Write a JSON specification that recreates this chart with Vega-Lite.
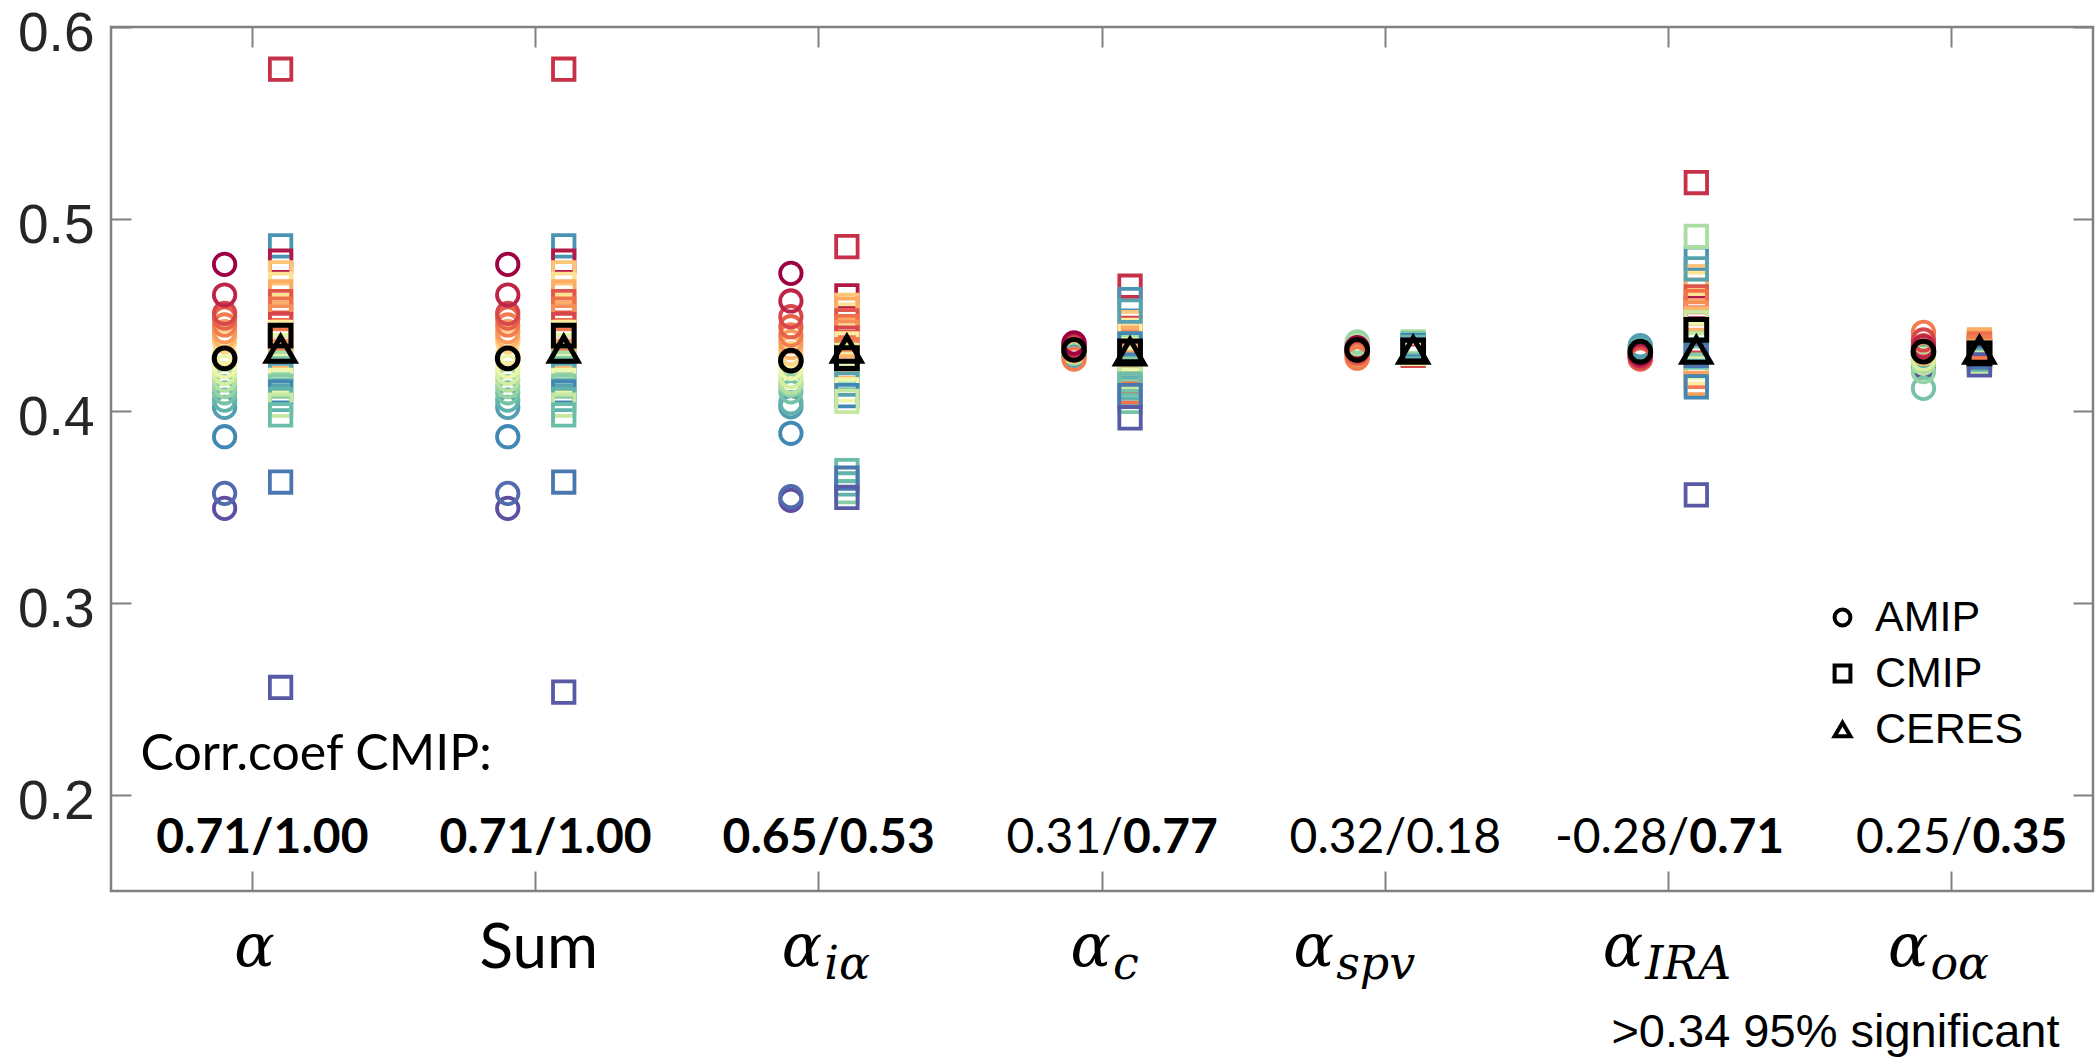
{
  "$schema": "https://vega.github.io/schema/vega-lite/v6.json",
  "width": 1982,
  "height": 864,
  "autosize": {"type": "none"},
  "padding": {"left": 111, "top": 27, "right": 3, "bottom": 168},
  "background": "white",
  "config": {
    "view": {"stroke": "#808080", "strokeWidth": 2.5},
    "style": {
      "lblbase": {"font": "DejaVu Serif", "fontStyle": "italic", "fontSize": 60, "fill": "black", "baseline": "alphabetic"},
      "lblsub": {"font": "DejaVu Serif", "fontStyle": "italic", "fontSize": 46, "fill": "black", "baseline": "alphabetic"},
      "corr": {"font": "Lato", "fontSize": 48, "fill": "black", "baseline": "alphabetic", "fontWeight": "normal"}
    }
  },
  "datasets": {
    "models": [
      {"set":"AMIP","tone":1.00,"a":0.3493,"sum":0.3493,"ia":0.3535,"c":0.4300,"spv":0.4310,"ira":0.4290,"oa":0.4230},
      {"set":"AMIP","tone":0.95,"a":0.3571,"sum":0.3571,"ia":0.3554,"c":0.4310,"spv":0.4325,"ira":0.4300,"oa":0.4260},
      {"set":"AMIP","tone":0.90,"a":0.3866,"sum":0.3866,"ia":0.3884,"c":0.4320,"spv":0.4330,"ira":0.4335,"oa":0.4290},
      {"set":"AMIP","tone":0.86,"a":0.4019,"sum":0.4019,"ia":0.4022,"c":0.4290,"spv":0.4340,"ira":0.4340,"oa":0.4300},
      {"set":"AMIP","tone":0.82,"a":0.4057,"sum":0.4057,"ia":0.4043,"c":0.4300,"spv":0.4320,"ira":0.4320,"oa":0.4280},
      {"set":"AMIP","tone":0.78,"a":0.4095,"sum":0.4095,"ia":0.4100,"c":0.4310,"spv":0.4350,"ira":0.4310,"oa":0.4118},
      {"set":"AMIP","tone":0.73,"a":0.4127,"sum":0.4127,"ia":0.4135,"c":0.4300,"spv":0.4360,"ira":0.4300,"oa":0.4205},
      {"set":"AMIP","tone":0.68,"a":0.4161,"sum":0.4161,"ia":0.4150,"c":0.4315,"spv":0.4340,"ira":0.4295,"oa":0.4250},
      {"set":"AMIP","tone":0.62,"a":0.4196,"sum":0.4196,"ia":0.4179,"c":0.4320,"spv":0.4330,"ira":0.4305,"oa":0.4270},
      {"set":"AMIP","tone":0.55,"a":0.4231,"sum":0.4231,"ia":0.4222,"c":0.4310,"spv":0.4320,"ira":0.4300,"oa":0.4300},
      {"set":"AMIP","tone":0.45,"a":0.4300,"sum":0.4300,"ia":0.4280,"c":0.4325,"spv":0.4310,"ira":0.4290,"oa":0.4310},
      {"set":"AMIP","tone":0.38,"a":0.4361,"sum":0.4361,"ia":0.4300,"c":0.4310,"spv":0.4300,"ira":0.4295,"oa":0.4320},
      {"set":"AMIP","tone":0.32,"a":0.4387,"sum":0.4387,"ia":0.4330,"c":0.4330,"spv":0.4290,"ira":0.4285,"oa":0.4300},
      {"set":"AMIP","tone":0.27,"a":0.4413,"sum":0.4413,"ia":0.4361,"c":0.4320,"spv":0.4280,"ira":0.4280,"oa":0.4330},
      {"set":"AMIP","tone":0.22,"a":0.4448,"sum":0.4448,"ia":0.4396,"c":0.4270,"spv":0.4275,"ira":0.4275,"oa":0.4410},
      {"set":"AMIP","tone":0.17,"a":0.4484,"sum":0.4484,"ia":0.4439,"c":0.4330,"spv":0.4300,"ira":0.4270,"oa":0.4340},
      {"set":"AMIP","tone":0.12,"a":0.4509,"sum":0.4509,"ia":0.4491,"c":0.4340,"spv":0.4310,"ira":0.4280,"oa":0.4370},
      {"set":"AMIP","tone":0.06,"a":0.4604,"sum":0.4604,"ia":0.4573,"c":0.4350,"spv":0.4320,"ira":0.4290,"oa":0.4335},
      {"set":"AMIP","tone":0.00,"a":0.4764,"sum":0.4764,"ia":0.4717,"c":0.4355,"spv":0.4330,"ira":0.4300,"oa":0.4310},
      {"set":"CMIP","tone":0.08,"a":0.578,"sum":0.578,"ia":0.4856,"c":0.4650,"spv":0.4330,"ira":0.5190,"oa":0.4330},
      {"set":"CMIP","tone":0.88,"a":0.486,"sum":0.486,"ia":0.4420,"c":0.4580,"spv":0.4340,"ira":0.4795,"oa":0.4300},
      {"set":"CMIP","tone":0.04,"a":0.478,"sum":0.478,"ia":0.4600,"c":0.4200,"spv":0.4320,"ira":0.4540,"oa":0.4310},
      {"set":"CMIP","tone":0.35,"a":0.472,"sum":0.472,"ia":0.4550,"c":0.4460,"spv":0.4350,"ira":0.4700,"oa":0.4360},
      {"set":"CMIP","tone":0.42,"a":0.466,"sum":0.466,"ia":0.4500,"c":0.4400,"spv":0.4340,"ira":0.4665,"oa":0.4280},
      {"set":"CMIP","tone":0.30,"a":0.462,"sum":0.462,"ia":0.4530,"c":0.4380,"spv":0.4330,"ira":0.4630,"oa":0.4370},
      {"set":"CMIP","tone":0.15,"a":0.457,"sum":0.457,"ia":0.4470,"c":0.4150,"spv":0.4300,"ira":0.4595,"oa":0.4340},
      {"set":"CMIP","tone":0.20,"a":0.453,"sum":0.453,"ia":0.4440,"c":0.4100,"spv":0.4320,"ira":0.4570,"oa":0.4350},
      {"set":"CMIP","tone":0.25,"a":0.449,"sum":0.449,"ia":0.4410,"c":0.4360,"spv":0.4310,"ira":0.4510,"oa":0.4320},
      {"set":"CMIP","tone":0.12,"a":0.445,"sum":0.445,"ia":0.4380,"c":0.4430,"spv":0.4290,"ira":0.4250,"oa":0.4290},
      {"set":"CMIP","tone":0.45,"a":0.441,"sum":0.441,"ia":0.4350,"c":0.4420,"spv":0.4300,"ira":0.4200,"oa":0.4270},
      {"set":"CMIP","tone":0.22,"a":0.437,"sum":0.437,"ia":0.4320,"c":0.4300,"spv":0.4330,"ira":0.4180,"oa":0.4330},
      {"set":"CMIP","tone":0.60,"a":0.434,"sum":0.434,"ia":0.4290,"c":0.4320,"spv":0.4320,"ira":0.4230,"oa":0.4260},
      {"set":"CMIP","tone":0.28,"a":0.431,"sum":0.431,"ia":0.4260,"c":0.4250,"spv":0.4310,"ira":0.4144,"oa":0.4310},
      {"set":"CMIP","tone":0.32,"a":0.428,"sum":0.428,"ia":0.4230,"c":0.4280,"spv":0.4300,"ira":0.4480,"oa":0.4300},
      {"set":"CMIP","tone":0.70,"a":0.425,"sum":0.425,"ia":0.4200,"c":0.4340,"spv":0.4360,"ira":0.4910,"oa":0.4250},
      {"set":"CMIP","tone":0.78,"a":0.422,"sum":0.422,"ia":0.4170,"c":0.4050,"spv":0.4350,"ira":0.4280,"oa":0.4280},
      {"set":"CMIP","tone":0.85,"a":0.419,"sum":0.419,"ia":0.4140,"c":0.4520,"spv":0.4330,"ira":0.4740,"oa":0.4290},
      {"set":"CMIP","tone":0.55,"a":0.416,"sum":0.416,"ia":0.4110,"c":0.4270,"spv":0.4300,"ira":0.4400,"oa":0.4270},
      {"set":"CMIP","tone":0.75,"a":0.413,"sum":0.413,"ia":0.3580,"c":0.4220,"spv":0.4330,"ira":0.4350,"oa":0.4280},
      {"set":"CMIP","tone":0.90,"a":0.410,"sum":0.410,"ia":0.4080,"c":0.4350,"spv":0.4340,"ira":0.4126,"oa":0.4300},
      {"set":"CMIP","tone":0.82,"a":0.406,"sum":0.406,"ia":0.3620,"c":0.4120,"spv":0.4320,"ira":0.4300,"oa":0.4260},
      {"set":"CMIP","tone":0.65,"a":0.403,"sum":0.403,"ia":0.4050,"c":0.4180,"spv":0.4310,"ira":0.4460,"oa":0.4250},
      {"set":"CMIP","tone":0.80,"a":0.398,"sum":0.398,"ia":0.3690,"c":0.4140,"spv":0.4330,"ira":0.4320,"oa":0.4300},
      {"set":"CMIP","tone":0.93,"a":0.363,"sum":0.363,"ia":0.3650,"c":0.4080,"spv":0.4310,"ira":0.4290,"oa":0.4280},
      {"set":"CMIP","tone":0.98,"a":0.256,"sum":0.2536,"ia":0.3550,"c":0.3964,"spv":0.4320,"ira":0.3563,"oa":0.4240}
    ],
    "means": [
      {"set":"AMIP","a":0.4274,"sum":0.4274,"ia":0.4262,"c":0.4318,"spv":0.4318,"ira":0.4309,"oa":0.4309},
      {"set":"CMIP","a":0.4392,"sum":0.4392,"ia":0.4275,"c":0.4310,"spv":0.4315,"ira":0.4422,"oa":0.4300}
    ],
    "ceres": [
      {"set":"CERES","a":0.4323,"sum":0.4323,"ia":0.4323,"c":0.4309,"spv":0.4318,"ira":0.4318,"oa":0.4318}
    ],
    "corr": [
      {"var":"a","l":"0.71/","r":"1.00"},
      {"var":"sum","l":"0.71/","r":"1.00"},
      {"var":"ia","l":"0.65/","r":"0.53"},
      {"var":"c","l":"0.31/","r":"0.77"},
      {"var":"spv","l":"0.32/","r":"0.18"},
      {"var":"ira","l":"-0.28/","r":"0.71"},
      {"var":"oa","l":"0.25/","r":"0.35"}
    ]
  },
  "layer": [
    {
      "data": {"name": "models"},
      "transform": [{"fold": ["a","sum","ia","c","spv","ira","oa"], "as": ["var","v"]}],
      "mark": {"type": "point", "filled": false, "strokeWidth": 3.8, "opacity": 1, "size": 460},
      "encoding": {
        "x": {"field": "var", "type": "nominal",
              "scale": {"domain": ["a","sum","ia","c","spv","ira","oa"], "paddingInner": 0, "paddingOuter": 0},
              "axis": {"orient": "bottom", "labels": false, "domain": false, "tickSize": -20, "tickColor": "#808080", "tickWidth": 2,
                       "title": ">0.34 95% significant", "titleFont": "Liberation Sans", "titleFontSize": 47, "titleFontWeight": "normal",
                       "titleColor": "black", "titleX": 1948, "titleY": 141, "titleAlign": "right", "titleBaseline": "middle"}},
        "xOffset": {"field": "set", "type": "nominal", "scale": {"domain": ["AMIP","CMIP"], "range": [113.6, 169.6], "paddingInner": 0, "paddingOuter": 0}},
        "y": {"field": "v", "type": "quantitative",
              "scale": {"domain": [0.15, 0.6], "nice": false, "zero": false},
              "axis": {"orient": "left", "values": [0.2,0.3,0.4,0.5,0.6], "format": ".1f", "title": null, "domain": false, "grid": false,
                       "tickSize": -20, "tickColor": "#808080", "tickWidth": 2, "labelFont": "Liberation Sans", "labelFontSize": 55,
                       "labelColor": "#262626", "labelPadding": 37, "labelBaseline": "alphabetic", "labelOffset": 23, "labelFlush": false}},
        "shape": {"field": "set", "type": "nominal",
                  "scale": {"domain": ["AMIP","CMIP","CERES"], "range": ["circle","square","triangle-up"]},
                  "legend": {"orient": "none", "legendX": 1710, "legendY": 569, "title": null, "padding": 0,
                             "symbolStrokeColor": "black", "symbolFillColor": "transparent", "symbolStrokeWidth": 4, "symbolSize": 250,
                             "labelFont": "Liberation Sans", "labelFontSize": 43, "labelColor": "black", "labelOffset": 11, "rowPadding": 12}},
        "color": {"field": "tone", "type": "quantitative", "scale": {"scheme": "spectral", "domain": [0, 1]}, "legend": null}
      }
    },
    {
      "data": {"name": "means"},
      "transform": [{"fold": ["a","sum","ia","c","spv","ira","oa"], "as": ["var","v"]}],
      "mark": {"type": "point", "filled": false, "strokeWidth": 5, "color": "black", "opacity": 1, "size": 430},
      "encoding": {
        "x": {"field": "var", "type": "nominal",
              "axis": {"orient": "top", "labels": false, "domain": false, "tickSize": -20, "tickColor": "#808080", "tickWidth": 2, "title": null}},
        "xOffset": {"field": "set", "type": "nominal"},
        "y": {"field": "v", "type": "quantitative",
              "axis": {"orient": "right", "labels": false, "values": [0.2,0.3,0.4,0.5,0.6], "domain": false, "grid": false,
                       "tickSize": -20, "tickColor": "#808080", "tickWidth": 2, "title": null}},
        "shape": {"field": "set", "type": "nominal"}
      }
    },
    {
      "data": {"name": "ceres"},
      "transform": [{"fold": ["a","sum","ia","c","spv","ira","oa"], "as": ["var","v"]}],
      "mark": {"type": "point", "filled": false, "strokeWidth": 5, "color": "black", "opacity": 1, "size": 800},
      "encoding": {
        "x": {"field": "var", "type": "nominal", "axis": null},
        "xOffset": {"datum": "CMIP"},
        "y": {"field": "v", "type": "quantitative", "axis": null},
        "shape": {"field": "set", "type": "nominal"}
      }
    },
    {
      "data": {"values": [{"var": "a"}]},
      "mark": {"type": "text", "style": "lblbase", "text": "α", "align": "center", "dx": 2, "y": "height", "dy": 75},
      "encoding": {"x": {"field": "var", "type": "nominal", "axis": null}}
    },
    {
      "data": {"values": [{"var": "sum"}]},
      "mark": {"type": "text", "font": "Lato", "fontSize": 62, "fill": "black", "baseline": "alphabetic", "text": "Sum", "align": "center", "dx": 3, "y": "height", "dy": 77},
      "encoding": {"x": {"field": "var", "type": "nominal", "axis": null}}
    },
    {
      "data": {"values": [{"var": "ia"}]},
      "mark": {"type": "text", "style": "lblbase", "text": "α", "align": "right", "dx": 3.5, "y": "height", "dy": 75},
      "encoding": {"x": {"field": "var", "type": "nominal", "axis": null}}
    },
    {
      "data": {"values": [{"var": "ia"}]},
      "mark": {"type": "text", "style": "lblsub", "text": "iα", "align": "left", "dx": 5.5, "y": "height", "dy": 88},
      "encoding": {"x": {"field": "var", "type": "nominal", "axis": null}}
    },
    {
      "data": {"values": [{"var": "c"}]},
      "mark": {"type": "text", "style": "lblbase", "text": "α", "align": "right", "dx": 9, "y": "height", "dy": 75},
      "encoding": {"x": {"field": "var", "type": "nominal", "axis": null}}
    },
    {
      "data": {"values": [{"var": "c"}]},
      "mark": {"type": "text", "style": "lblsub", "text": "c", "align": "left", "dx": 11, "y": "height", "dy": 88},
      "encoding": {"x": {"field": "var", "type": "nominal", "axis": null}}
    },
    {
      "data": {"values": [{"var": "spv"}]},
      "mark": {"type": "text", "style": "lblbase", "text": "α", "align": "right", "dx": -51, "y": "height", "dy": 75},
      "encoding": {"x": {"field": "var", "type": "nominal", "axis": null}}
    },
    {
      "data": {"values": [{"var": "spv"}]},
      "mark": {"type": "text", "style": "lblsub", "text": "spv", "align": "left", "dx": -49, "y": "height", "dy": 88},
      "encoding": {"x": {"field": "var", "type": "nominal", "axis": null}}
    },
    {
      "data": {"values": [{"var": "ira"}]},
      "mark": {"type": "text", "style": "lblbase", "text": "α", "align": "right", "dx": -25, "y": "height", "dy": 75},
      "encoding": {"x": {"field": "var", "type": "nominal", "axis": null}}
    },
    {
      "data": {"values": [{"var": "ira"}]},
      "mark": {"type": "text", "style": "lblsub", "text": "IRA", "align": "left", "dx": -23, "y": "height", "dy": 88},
      "encoding": {"x": {"field": "var", "type": "nominal", "axis": null}}
    },
    {
      "data": {"values": [{"var": "oa"}]},
      "mark": {"type": "text", "style": "lblbase", "text": "α", "align": "right", "dx": -23, "y": "height", "dy": 75},
      "encoding": {"x": {"field": "var", "type": "nominal", "axis": null}}
    },
    {
      "data": {"values": [{"var": "oa"}]},
      "mark": {"type": "text", "style": "lblsub", "text": "oα", "align": "left", "dx": -21, "y": "height", "dy": 88},
      "encoding": {"x": {"field": "var", "type": "nominal", "axis": null}}
    },
    {
      "data": {"name": "corr"},
      "transform": [{"filter": "toNumber(slice(datum.l, 0, -1)) > 0.34"}],
      "mark": {"type": "text", "style": "corr", "fontWeight": "bold", "align": "right", "dx": 21},
      "encoding": {"x": {"field": "var", "type": "nominal", "axis": null}, "y": {"datum": 0.1698, "axis": null}, "text": {"field": "l"}}
    },
    {
      "data": {"name": "corr"},
      "transform": [{"filter": "toNumber(slice(datum.l, 0, -1)) <= 0.34"}],
      "mark": {"type": "text", "style": "corr", "align": "right", "dx": 21},
      "encoding": {"x": {"field": "var", "type": "nominal", "axis": null}, "y": {"datum": 0.1698, "axis": null}, "text": {"field": "l"}}
    },
    {
      "data": {"name": "corr"},
      "transform": [{"filter": "toNumber(datum.r) > 0.34"}],
      "mark": {"type": "text", "style": "corr", "fontWeight": "bold", "align": "left", "dx": 21},
      "encoding": {"x": {"field": "var", "type": "nominal", "axis": null}, "y": {"datum": 0.1698, "axis": null}, "text": {"field": "r"}}
    },
    {
      "data": {"name": "corr"},
      "transform": [{"filter": "toNumber(datum.r) <= 0.34"}],
      "mark": {"type": "text", "style": "corr", "align": "left", "dx": 21},
      "encoding": {"x": {"field": "var", "type": "nominal", "axis": null}, "y": {"datum": 0.1698, "axis": null}, "text": {"field": "r"}}
    },
    {
      "data": {"values": [{"var": "a"}]},
      "mark": {"type": "text", "style": "corr", "fontSize": 50, "text": "Corr.coef CMIP:", "align": "left", "dx": -112},
      "encoding": {"x": {"field": "var", "type": "nominal", "axis": null}, "y": {"datum": 0.2130, "axis": null}}
    }
  ],
  "resolve": {"axis": {"x": "independent", "y": "independent"}}
}
